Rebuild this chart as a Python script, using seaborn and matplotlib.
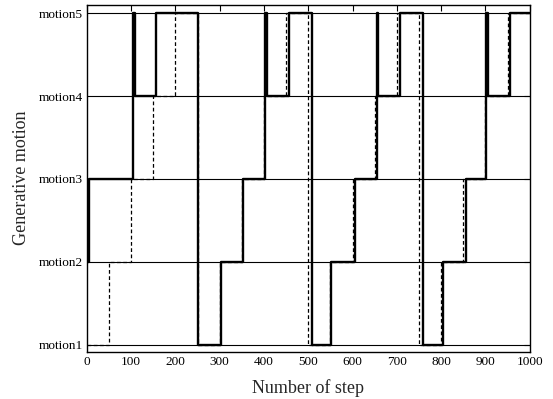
import matplotlib
matplotlib.use("Agg")
import matplotlib.pyplot as plt
import pandas as pd
import seaborn as sns

# --- data ---
motion_labels = ["motion1", "motion2", "motion3", "motion4", "motion5"]
motion_levels = [1, 2, 3, 4, 5]
x_ticks = [0, 100, 200, 300, 400, 500, 600, 700, 800, 900, 1000]

# target motion (dashed), change points
target_step = [0, 50, 100, 150, 200, 250, 300, 350, 400, 450, 500,
               550, 600, 650, 700, 750, 800, 850, 900, 950, 1000]
target_motion = [1, 2, 3, 4, 5, 1, 2, 3, 4, 5, 1,
                 2, 3, 4, 5, 1, 2, 3, 4, 5, 5]

# generated motion (solid), change points
gen_step = [0, 4, 105, 108, 156, 252, 304, 352, 403, 407, 457, 509,
            552, 605, 654, 658, 707, 760, 804, 856, 902, 906, 955, 1000]
gen_motion = [2, 3, 5, 4, 5, 1, 2, 3, 5, 4, 5, 1,
              2, 3, 5, 4, 5, 1, 2, 3, 5, 4, 5, 5]

gen_df = pd.DataFrame({"step": gen_step, "motion": gen_motion})
target_df = pd.DataFrame({"step": target_step, "motion": target_motion})

sns.set_theme(style="white")
plt.rcParams["font.family"] = ["Liberation Serif", "DejaVu Serif"]
plt.rcParams["mathtext.fontset"] = "stix"

fig = plt.figure(figsize=(5.53, 3.99), dpi=100)
ax = fig.add_axes([0.157, 0.119, 0.801, 0.869])

sns.lineplot(data=gen_df, x="step", y="motion", ax=ax, color="black",
             linewidth=1.7, drawstyle="steps-post", estimator=None, sort=False)
sns.lineplot(data=target_df, x="step", y="motion", ax=ax, color="black",
             linewidth=0.9, linestyle=(0, (3, 2)), drawstyle="steps-post",
             estimator=None, sort=False)

ax.set_xlim(0, 1000)
ax.set_ylim(0.92, 5.1)
ax.set_xticks(x_ticks)
ax.set_yticks(motion_levels)
ax.set_yticklabels(motion_labels)

ax.yaxis.grid(True, color="black", linewidth=0.8)
ax.xaxis.grid(False)
ax.set_axisbelow(True)

for s in ax.spines.values():
    s.set_color("black")
    s.set_linewidth(1.0)
ax.tick_params(direction="in", top=True, right=True, length=4, width=0.8,
               labelsize=9.5, colors="black", pad=3)

ax.set_xlabel("Number of step", fontsize=13, labelpad=8)
ax.set_ylabel("Generative motion", fontsize=13, labelpad=6)

fig.savefig("out.png", dpi=100)
